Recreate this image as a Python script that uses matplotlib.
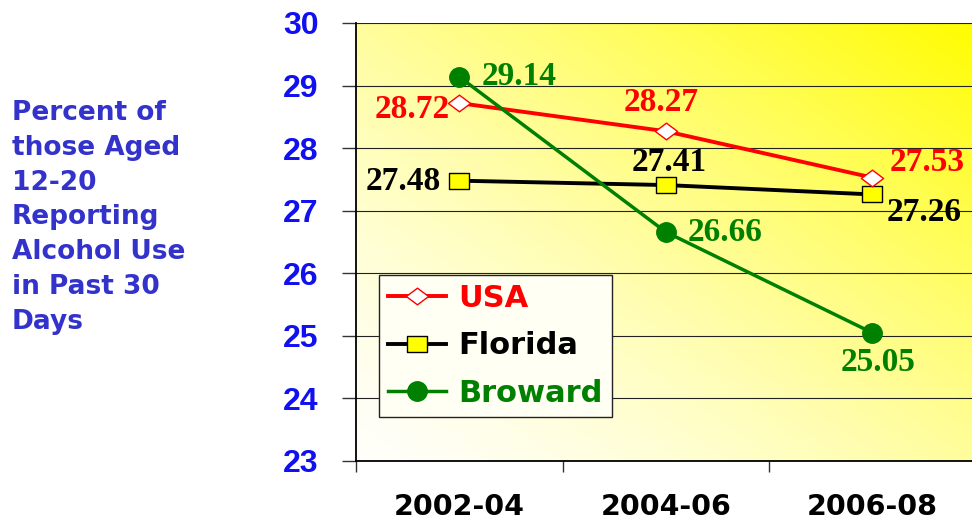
import numpy as np
import matplotlib
matplotlib.use("Agg")
import matplotlib.pyplot as plt
from matplotlib.path import Path

# ---- data ----
categories = ["2002-04", "2004-06", "2006-08"]
usa = [28.72, 28.27, 27.53]
florida = [27.48, 27.41, 27.26]
broward = [29.14, 26.66, 25.05]
series_names = ["USA", "Florida", "Broward"]
y_ticks = [23, 24, 25, 26, 27, 28, 29, 30]
ylabel_lines = ["Percent of", "those Aged", "12-20", "Reporting",
                "Alcohol Use", "in Past 30", "Days"]

W, H = 972, 522
fig = plt.figure(figsize=(W / 100, H / 100), dpi=100)
fig.patch.set_facecolor("white")

ax_l, ax_r, ax_t, ax_b = 356, 975.5, 23, 461
ax = fig.add_axes([ax_l / W, 1 - ax_b / H, (ax_r - ax_l) / W, (ax_b - ax_t) / H])

# gradient background
n = 300
xx, yy = np.meshgrid(np.linspace(0, 1, n), np.linspace(0, 1, n))
t = (xx + yy) / 2
b = 250 * (1 - t ** 1.4)
img = np.zeros((n, n, 3))
img[..., 0] = 1.0
img[..., 1] = 1.0 - 0.01 * t
img[..., 2] = b / 255
ax.imshow(img, extent=[0, 1, 0, 1], transform=ax.transAxes, origin="lower",
          aspect="auto", zorder=0)

x = np.arange(len(categories))
ax.set_xlim(-0.5, len(categories) - 0.5)
ax.set_ylim(23, 30)

diamond = Path([(-1, 0), (0, 0.75), (1, 0), (0, -0.75), (-1, 0)],
               [Path.MOVETO, Path.LINETO, Path.LINETO, Path.LINETO, Path.CLOSEPOLY])
rect = Path([(-1, -0.8), (1, -0.8), (1, 0.8), (-1, 0.8), (-1, -0.8)],
            [Path.MOVETO, Path.LINETO, Path.LINETO, Path.LINETO, Path.CLOSEPOLY])

l1, = ax.plot(x, usa, color="#ff0000", lw=2.8, marker=diamond, markersize=16,
              markerfacecolor="white", markeredgecolor="#ff0000", markeredgewidth=1.0,
              zorder=5, label=series_names[0])
l2, = ax.plot(x, florida, color="black", lw=2.8, marker=rect, markersize=15,
              markerfacecolor="#ffff00", markeredgecolor="black", markeredgewidth=1.0,
              zorder=4, label=series_names[1])
l3, = ax.plot(x, broward, color="#008000", lw=2.5, marker="o", markersize=14,
              markerfacecolor="#008000", markeredgecolor="#008000",
              zorder=6, label=series_names[2])

# grid
ax.set_yticks(y_ticks)
ax.yaxis.grid(True, color="#222222", lw=0.8, zorder=1)
ax.set_axisbelow(True)

# spines
for s in ["top", "right"]:
    ax.spines[s].set_visible(False)
ax.spines["left"].set_linewidth(1.3)
ax.spines["bottom"].set_linewidth(1.3)
ax.spines["left"].set_zorder(3)
ax.spines["bottom"].set_zorder(3)

ax.tick_params(axis="y", direction="out", length=10, width=1.0, pad=17,
               labelcolor="#1010f0", colors="#333333")
for lab in ax.get_yticklabels():
    lab.set_fontfamily("Liberation Sans")
    lab.set_fontweight("bold")
    lab.set_fontsize(23)
    lab.set_color("#1010f0")

ax.set_xticks(x)
ax.set_xticklabels(categories, fontfamily="DejaVu Sans", fontweight="bold", fontsize=20.5)
ax.set_xticks(np.arange(-0.5, len(categories)), minor=True)
ax.tick_params(axis="x", which="major", length=0, pad=23)
ax.tick_params(axis="x", which="minor", direction="out", length=8, width=1.0, colors="#333333")

# data labels
serif = dict(fontfamily="Liberation Serif", fontweight="bold", fontsize=24)
label_specs = [
    (usa, "#ff0000", [(-10, -6, "right"), (-5, 29, "center"), (17, 15, "left")]),
    (florida, "black", [(-18, -1, "right"), (3, 23, "center"), (14, -18, "left")]),
    (broward, "#008000", [(22, 0, "left"), (22, -1, "left"), (6, -30, "center")]),
]
for vals, col, offs in label_specs:
    for i, v in enumerate(vals):
        dx, dy, ha = offs[i]
        ax.annotate(f"{v:.2f}", (x[i], v), xytext=(dx, dy), textcoords="offset pixels",
                    ha=ha, va="center", color=col, zorder=8, **serif)

# legend
leg = ax.legend(handles=[l1, l2, l3], loc="lower left",
                bbox_to_anchor=((379 - ax_l) / (ax_r - ax_l), (ax_b - 417) / (ax_b - ax_t)),
                borderaxespad=0, frameon=True, fancybox=False,
                prop=dict(family="DejaVu Sans", weight="bold", size=22),
                handlelength=1.9, handletextpad=0.4, labelspacing=0.6,
                borderpad=0.3)
leg.get_frame().set_edgecolor("#222222")
leg.get_frame().set_linewidth(1.0)
leg.get_frame().set_facecolor("#fffff4")
leg.get_frame().set_alpha(1)
leg.set_zorder(7)
for txt, col in zip(leg.get_texts(), ["#ff0000", "black", "#008000"]):
    txt.set_color(col)

# y-axis description text
for i, line in enumerate(ylabel_lines):
    fig.text(12 / W, 1 - (113 + i * 34.8) / H, line, ha="left", va="center",
             fontfamily="DejaVu Sans", fontweight="bold", fontsize=19, color="#3333cc")

fig.savefig("out.png", dpi=100, facecolor="white")
